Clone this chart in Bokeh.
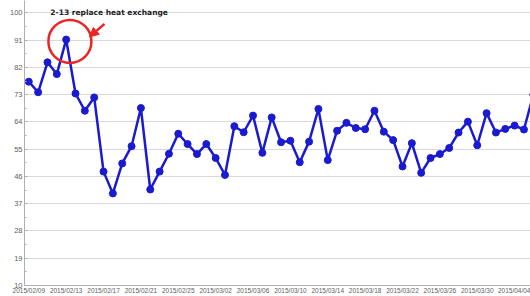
from bokeh.plotting import figure
from bokeh.models import Range1d, FixedTicker, Arrow, NormalHead, Label
from bokeh.embed import file_html
from bokeh.resources import INLINE

# data (daily readings, one per plotted day)
values = [77.3, 73.8, 83.7, 79.8, 91.2, 73.4, 67.7, 72.1, 47.6, 40.4,
          50.3, 56.0, 68.6, 41.7, 47.6, 53.5, 60.1, 56.7, 53.4, 56.7,
          52.1, 46.5, 62.6, 60.6, 66.1, 53.8, 65.5, 57.3, 57.8, 50.7,
          57.5, 68.3, 51.4, 61.1, 63.7, 62.0, 61.6, 67.7, 60.8, 58.0,
          49.3, 57.0, 47.2, 52.1, 53.4, 55.4, 60.5, 64.1, 56.3, 66.9,
          60.5, 61.7, 62.8, 61.5, 73.0]
tick_labels = ["2015/02/09", "2015/02/13", "2015/02/17", "2015/02/21",
               "2015/02/25", "2015/03/02", "2015/03/06", "2015/03/10",
               "2015/03/14", "2015/03/18", "2015/03/22", "2015/03/26",
               "2015/03/30", "2015/04/04"]
y_ticks = [10, 19, 28, 37, 46, 55, 64, 73, 82, 91, 100]
annotation_text = "2-13 replace heat exchange"
event_index = 4  # 2015/02/13

xs = list(range(len(values)))
tick_pos = [i * 4 for i in range(len(tick_labels))]

p = figure(width=530, height=296, output_backend="svg", toolbar_location=None,
           x_range=Range1d(-0.46, 53.7), y_range=Range1d(10, 104.1),
           min_border_left=24, min_border_right=0, min_border_top=0,
           min_border_bottom=0)
p.outline_line_color = None
p.background_fill_color = "white"

# grid
p.xgrid.grid_line_color = None
p.ygrid.grid_line_color = "#d9d9d9"
p.ygrid.grid_line_width = 1

# y axis
p.yaxis.ticker = FixedTicker(ticks=y_ticks,
                             minor_ticks=[t + 4.5 for t in y_ticks[:-1]])
p.yaxis.axis_line_color = "#b0b0b0"
p.yaxis.major_tick_line_color = "#b0b0b0"
p.yaxis.minor_tick_line_color = "#b0b0b0"
p.yaxis.major_tick_in = 3
p.yaxis.major_tick_out = 0
p.yaxis.minor_tick_in = 2
p.yaxis.minor_tick_out = 0
p.yaxis.major_label_standoff = 2
p.yaxis.major_label_text_font = "Liberation Sans"
p.yaxis.major_label_text_font_size = "7.5px"
p.yaxis.major_label_text_color = "#606060"

# x axis
p.xaxis.ticker = FixedTicker(ticks=tick_pos, minor_ticks=[])
p.xaxis.major_label_overrides = {t: l for t, l in zip(tick_pos, tick_labels)}
p.xaxis.axis_line_color = "#b0b0b0"
p.xaxis.major_tick_line_color = None
p.xaxis.minor_tick_line_color = None
p.xaxis.major_tick_in = 0
p.xaxis.major_tick_out = 0
p.xaxis.major_label_standoff = 1
p.xaxis.major_label_text_font = "Liberation Sans"
p.xaxis.major_label_text_font_size = "6.5px"
p.xaxis.major_label_text_color = "#606060"

# series
blue = "#1a1ad0"
p.line(xs, values, line_color=blue, line_width=2.5)
p.scatter(xs, values, size=7, fill_color=blue, line_color=blue)

# event highlight
p.scatter([event_index + 0.4], [values[event_index] - 0.6], size=43,
          marker="circle", fill_color=None, line_color="#ee2222", line_width=2.5)
p.add_layout(Arrow(end=NormalHead(size=9, fill_color="#ee2222",
                                  line_color="#ee2222"),
                   x_start=event_index + 4.1, y_start=values[event_index] + 5.2,
                   x_end=event_index + 2.5, y_end=values[event_index] + 0.9,
                   line_color="#ee2222", line_width=2.5))
p.add_layout(Label(x=event_index + 4.6, y=100, text=annotation_text,
                   text_align="center", text_baseline="middle",
                   text_font="DejaVu Sans", text_font_style="bold",
                   text_font_size="7.5px", text_color="#222222"))

open("out.html", "w").write(file_html(p, INLINE))
